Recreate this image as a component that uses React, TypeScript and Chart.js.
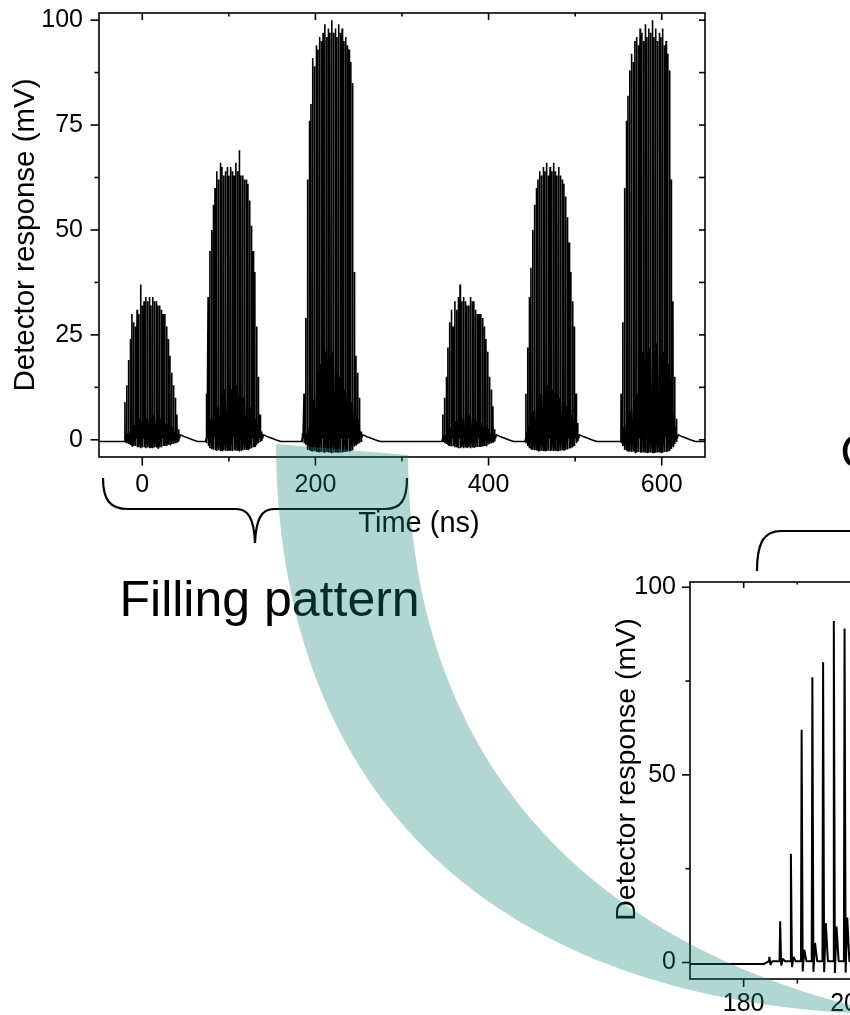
import React, { useEffect, useRef } from "react";
import { Chart, registerables } from "chart.js";

Chart.register(...registerables);

const FONT_FAMILY = "'Liberation Sans', Arial, Helvetica, sans-serif";

// ---------------- Data (time in ns, detector response in mV) ----------------
const BUNCH_SPACING_NS = 2;
// arrival time of the first bunch of each bunch train
const trainStartNs = [-20, 74, 184.8, 347, 443, 553];

// peak height of every bunch signal in each train
const train1Peaks = [9, 13, 19, 24, 30, 28, 27, 31, 30, 37, 32, 33, 34, 33, 34, 32, 34, 33, 33, 32, 32, 31, 30, 30, 27, 24, 20, 16, 13, 10, 6, 2.5];
const train2Peaks = [11, 34, 45, 50, 56, 60, 64, 62, 66, 65, 63, 64, 65, 63, 65, 64, 63, 66, 64, 69, 63, 63, 62, 62, 61, 57, 51, 45, 40, 27, 15, 6, 2];
const train3Peaks = [1.5, 11, 29, 62, 76, 80, 91, 89, 94, 93, 96, 95, 97, 99, 96, 98, 97, 100, 97, 98, 96, 99, 97, 98, 95, 96, 94, 93, 90, 85, 40, 20, 16, 10, 2];
const train4Peaks = [6, 10, 15, 22, 28, 31, 27, 33, 31, 34, 37, 33, 34, 33, 32, 32, 34, 33, 33, 31, 30, 30, 30, 29, 27, 24, 21, 15, 12, 8, 2.5];
const train5Peaks = [11, 22, 34, 41, 50, 56, 60, 62, 64, 63, 65, 64, 66, 63, 65, 64, 66, 64, 63, 65, 63, 62, 61, 58, 53, 47, 40, 33, 27, 11, 4];
const train6Peaks = [11, 28, 60, 76, 82, 88, 92, 90, 95, 96, 94, 98, 97, 95, 99, 96, 98, 97, 100, 96, 98, 95, 97, 96, 98, 94, 95, 92, 88, 62, 33, 15, 5];

// height of the ringing echo following every bunch signal
const train1Echo = [1, 1.5, 2, 2.5, 3, 3.5, 4, 4, 5, 4.5, 5, 6, 5, 5.5, 6, 5, 6, 5.5, 5, 6, 5, 4.5, 5, 4, 4, 3.5, 3, 3, 2.5, 2, 1.5, 1];
const train2Echo = [2, 4, 5, 6, 7, 8, 8, 9, 10, 11, 12, 11, 12, 13, 12, 11, 12, 13, 12, 11, 10, 10, 9, 9, 8, 8, 7, 6, 5, 4, 3, 2, 1];
const train3Echo = [0.3, 1, 1.5, 3.4, 5.2, 10.5, 9.6, 12, 14, 16, 18, 20, 22, 21, 23, 22, 20, 21, 19, 18, 16, 15, 14, 13, 12, 11, 11, 10, 9, 9, 8, 6, 5, 3, 1];
const train4Echo = [1, 1.5, 2, 2.5, 3, 3.5, 4, 4.5, 5, 5, 5.5, 5, 6, 5.5, 5, 6, 5.5, 5, 5, 4.5, 4.5, 4, 4, 3.5, 3, 3, 2.5, 2, 2, 1.5, 1];
const train5Echo = [2, 4, 5, 6, 7, 8, 9, 10, 11, 12, 11, 12, 13, 12, 11, 12, 13, 12, 11, 10, 10, 9, 9, 8, 7, 7, 6, 5, 4, 2, 1];
const train6Echo = [2, 3, 4, 5, 6, 7, 8, 9, 10, 11, 16, 19, 21, 22, 23, 21, 22, 20, 22, 21, 23, 21, 22, 20, 21, 19, 20, 18, 17, 12, 6, 3, 1];

// undershoot right after every bunch signal
const train1Dip = [-0.5, -0.8, -1, -1.2, -1.5, -1.5, -1.5, -1.8, -1.8, -2, -1.8, -1.8, -2, -1.8, -2, -1.8, -2, -1.8, -1.8, -2, -1.8, -1.8, -1.5, -1.5, -1.5, -1.2, -1.2, -1, -1, -0.8, -0.6, -0.4];
const train2Dip = [-0.8, -1.5, -2, -2.2, -2.4, -2.5, -2.6, -2.5, -2.7, -2.6, -2.5, -2.6, -2.7, -2.5, -2.6, -2.7, -2.5, -2.6, -2.6, -2.8, -2.5, -2.5, -2.4, -2.4, -2.3, -2.2, -2, -1.8, -1.6, -1.2, -0.8, -0.5, -0.3];
const train3Dip = [-0.6, -0.8, -1.2, -2.4, -2.5, -2.6, -2.8, -2.7, -2.9, -2.8, -3, -2.9, -3, -3.1, -2.9, -3, -2.9, -3.2, -3, -3, -2.9, -3.1, -3, -3, -2.9, -2.9, -2.8, -2.8, -2.7, -2.5, -1.6, -1.2, -1, -0.8, -0.5];
const train4Dip = [-0.5, -0.8, -1, -1.2, -1.5, -1.6, -1.5, -1.8, -1.8, -2, -2, -1.8, -2, -1.8, -1.8, -1.8, -2, -1.8, -1.8, -1.8, -1.7, -1.7, -1.7, -1.6, -1.5, -1.4, -1.2, -1, -0.8, -0.6, -0.4];
const train5Dip = [-0.8, -1.5, -2, -2.2, -2.4, -2.5, -2.5, -2.6, -2.7, -2.6, -2.7, -2.6, -2.7, -2.6, -2.7, -2.6, -2.7, -2.6, -2.6, -2.7, -2.6, -2.5, -2.5, -2.4, -2.3, -2.1, -2, -1.8, -1.5, -0.8, -0.4];
const train6Dip = [-0.8, -1.5, -2.4, -2.6, -2.7, -2.8, -2.9, -2.8, -3, -3, -2.9, -3.1, -3, -3, -3.1, -3, -3.1, -3, -3.2, -3, -3.1, -3, -3, -3, -3.1, -2.9, -2.9, -2.8, -2.7, -2.2, -1.6, -1, -0.5];

const trainPeaks = [train1Peaks, train2Peaks, train3Peaks, train4Peaks, train5Peaks, train6Peaks];
const trainEchoes = [train1Echo, train2Echo, train3Echo, train4Echo, train5Echo, train6Echo];
const trainDips = [train1Dip, train2Dip, train3Dip, train4Dip, train5Dip, train6Dip];

// slow tail after the last bunch of a train (ns after last bunch, mV)
const tailOffsetsNs = [2, 4, 7, 11, 16, 22];
const tailMv = [1.2, 1.0, 0.7, 0.4, 0.0, -0.4];

const BASELINE_MV = -0.4;
const SETTLE_MV = 0.3;
// detector pulse timing relative to bunch arrival (ns)
const RISE_NS = 0.12;
const DIP_NS = 0.2;
const ECHO_NS = 0.5;
const SETTLE_NS = 0.9;

// ---------------- Axes ----------------
const overviewX = { min: -50, max: 650 };
const overviewY = { min: -4.1, max: 101.7 };
const overviewXTicks = [0, 200, 400, 600];
const overviewXMinor = [100, 300, 500];
const overviewYTicks = [0, 25, 50, 75, 100];
const overviewYMinor = [12.5, 37.5, 62.5, 87.5];

const zoomX = { min: 170, max: 260 };
const zoomY = { min: -4.4, max: 101.4 };
const zoomXTicks = [180, 200, 220, 240, 260];
const zoomXMinor = [190, 210, 230, 250];
const zoomYTicks = [0, 50, 100];
const zoomYMinor = [25, 75];

const Y_TITLE = "Detector response (mV)";
const X_TITLE = "Time (ns)";

function buildTrace(xMin: number, xMax: number) {
  const pts: { x: number; y: number }[] = [{ x: xMin, y: BASELINE_MV }];
  trainStartNs.forEach((t0, k) => {
    pts.push({ x: t0 - 1, y: BASELINE_MV });
    const peaks = trainPeaks[k];
    peaks.forEach((p, i) => {
      const t = t0 + i * BUNCH_SPACING_NS;
      pts.push({ x: t - RISE_NS, y: SETTLE_MV });
      pts.push({ x: t, y: p });
      pts.push({ x: t + DIP_NS, y: trainDips[k][i] });
      pts.push({ x: t + ECHO_NS, y: trainEchoes[k][i] });
      pts.push({ x: t + SETTLE_NS, y: SETTLE_MV });
    });
    const tLast = t0 + (peaks.length - 1) * BUNCH_SPACING_NS;
    tailOffsetsNs.forEach((dt, j) => pts.push({ x: tLast + dt, y: tailMv[j] }));
  });
  pts.push({ x: xMax, y: BASELINE_MV });
  return pts;
}

const frameTicksPlugin = {
  id: "frameTicks",
  afterDraw(chart: any, _args: any, opts: any) {
    const { ctx, chartArea: a } = chart;
    const xs = chart.scales.x;
    const ys = chart.scales.y;
    const L = opts.len;
    ctx.save();
    ctx.strokeStyle = "#000";
    ctx.lineWidth = opts.lineWidth;
    ctx.strokeRect(a.left, a.top, a.right - a.left, a.bottom - a.top);
    const seg = (x1: number, y1: number, x2: number, y2: number) => {
      ctx.beginPath();
      ctx.moveTo(x1, y1);
      ctx.lineTo(x2, y2);
      ctx.stroke();
    };
    opts.xMajor.forEach((v: number) => {
      const p = xs.getPixelForValue(v);
      seg(p, a.bottom, p, a.bottom + L.outMajor);
      seg(p, a.top, p, a.top + L.inMajor);
    });
    opts.xMinor.forEach((v: number) => {
      const p = xs.getPixelForValue(v);
      seg(p, a.bottom, p, a.bottom + L.outMinor);
      seg(p, a.top, p, a.top + L.inMinor);
    });
    opts.yMajor.forEach((v: number) => {
      const p = ys.getPixelForValue(v);
      seg(a.left, p, a.left - L.outMajor, p);
      seg(a.right, p, a.right - L.right, p);
    });
    opts.yMinor.forEach((v: number) => {
      const p = ys.getPixelForValue(v);
      seg(a.left, p, a.left - L.outMinor, p);
      seg(a.right, p, a.right - L.right, p);
    });
    ctx.fillStyle = "#000";
    if (opts.xTitle) {
      ctx.font = `${opts.xTitle.size}px ${FONT_FAMILY}`;
      ctx.textAlign = "center";
      ctx.textBaseline = "alphabetic";
      ctx.fillText(opts.xTitle.text, (a.left + a.right) / 2 + opts.xTitle.dx, a.bottom + opts.xTitle.dy);
    }
    if (opts.yTitle) {
      ctx.font = `${opts.yTitle.size}px ${FONT_FAMILY}`;
      ctx.textAlign = "center";
      ctx.textBaseline = "alphabetic";
      ctx.translate(opts.yTitle.x, (a.top + a.bottom) / 2 + opts.yTitle.dy);
      ctx.rotate(-Math.PI / 2);
      ctx.fillText(opts.yTitle.text, 0, 0);
    }
    ctx.restore();
  },
};

function makeConfig(p: any) {
  const trace = buildTrace(overviewX.min, overviewX.max);
  return {
    type: "line",
    data: {
      datasets: [
        {
          data: trace,
          borderColor: "#000",
          borderWidth: p.lineWidth,
          pointRadius: 0,
          tension: 0,
          fill: false,
          borderJoinStyle: "bevel",
        },
      ],
    },
    options: {
      responsive: false,
      animation: false,
      devicePixelRatio: 1,
      parsing: false,
      normalized: true,
      events: [],
      layout: { padding: p.padding },
      plugins: {
        legend: { display: false },
        tooltip: { enabled: false },
        frameTicks: p.frame,
      },
      scales: {
        x: {
          type: "linear",
          min: p.x.min,
          max: p.x.max,
          afterBuildTicks: (s: any) => {
            s.ticks = p.xTicks.map((v: number) => ({ value: v }));
          },
          afterFit: (s: any) => {
            s.height = p.xHeight;
            s.paddingLeft = 0;
            s.paddingRight = 0;
            s.paddingTop = 0;
            s.paddingBottom = 0;
          },
          grid: { display: false, drawTicks: false },
          border: { display: false },
          ticks: {
            color: "#000",
            font: { family: FONT_FAMILY, size: p.tickSize },
            padding: p.xTickPad,
            maxRotation: 0,
            autoSkip: false,
          },
        },
        y: {
          type: "linear",
          min: p.y.min,
          max: p.y.max,
          afterBuildTicks: (s: any) => {
            s.ticks = p.yTicks.map((v: number) => ({ value: v }));
          },
          afterFit: (s: any) => {
            s.width = p.yWidth;
            s.paddingLeft = 0;
            s.paddingRight = 0;
            s.paddingTop = 0;
            s.paddingBottom = 0;
          },
          grid: { display: false, drawTicks: false },
          border: { display: false },
          ticks: {
            color: "#000",
            font: { family: FONT_FAMILY, size: p.tickSize },
            padding: p.yTickPad,
            autoSkip: false,
          },
          title: {
            display: p.yTitleSize > 0,
            text: Y_TITLE,
            color: "#000",
            font: { family: FONT_FAMILY, size: p.yTitleSize > 0 ? p.yTitleSize : 12 },
            padding: { top: p.yTitlePad, bottom: 0 },
          },
        },
      },
    },
    plugins: [frameTicksPlugin],
  };
}

// ---------------- Decorations ----------------
const bandPath =
  "M 276 444 C 278 820 520 995 850 1013 L 880 1016 L 880 1011 L 850 1005 C 620 945 410 790 408 455 Z";
const braceFilling =
  "M 103 478 C 103 500 110 509 128 509 L 236 509 C 248 509 254 518 255 543 C 256 518 262 509 274 509 L 385 509 C 401 509 407 500 407 478";
const braceZoom = "M 757 571 C 757 546 762 531 781 531 L 880 531";

export default function App() {
  const topRef = useRef<HTMLCanvasElement>(null);
  const zoomRef = useRef<HTMLCanvasElement>(null);

  useEffect(() => {
    const charts: Chart[] = [];
    if (topRef.current) {
      charts.push(
        new Chart(
          topRef.current,
          makeConfig({
            lineWidth: 1.6,
            padding: { left: 0, top: 13, right: 145, bottom: 0 },
            x: overviewX,
            y: overviewY,
            xTicks: overviewXTicks,
            yTicks: overviewYTicks,
            xHeight: 103,
            yWidth: 99,
            tickSize: 25,
            xTickPad: 13,
            yTickPad: 16,
            yTitleSize: 29.5,
            yTitlePad: 8,
            frame: {
              lineWidth: 1.6,
              len: { outMajor: 8.5, outMinor: 4.5, inMajor: 7, inMinor: 3.5, right: 6 },
              xMajor: overviewXTicks,
              xMinor: overviewXMinor,
              yMajor: overviewYTicks,
              yMinor: overviewYMinor,
              xTitle: { text: X_TITLE, size: 29, dx: 17, dy: 75 },
              yTitle: null,
            },
          }) as any
        )
      );
    }
    if (zoomRef.current) {
      charts.push(
        new Chart(
          zoomRef.current,
          makeConfig({
            lineWidth: 2,
            padding: { left: 0, top: 22, right: 87, bottom: 0 },
            x: zoomX,
            y: zoomY,
            xTicks: zoomXTicks,
            yTicks: zoomYTicks,
            xHeight: 36,
            yWidth: 130,
            tickSize: 25,
            xTickPad: 10,
            yTickPad: 14,
            yTitleSize: 0,
            yTitlePad: 0,
            frame: {
              lineWidth: 1.6,
              len: { outMajor: 8, outMinor: 4.5, inMajor: 6, inMinor: 2.5, right: 6 },
              xMajor: zoomXTicks,
              xMinor: zoomXMinor,
              yMajor: zoomYTicks,
              yMinor: zoomYMinor,
              xTitle: null,
              yTitle: { text: Y_TITLE, size: 28.5, x: 75, dy: -11 },
            },
          }) as any
        )
      );
    }
    return () => charts.forEach((c) => c.destroy());
  }, []);

  return (
    <div
      style={{
        position: "fixed",
        left: 0,
        top: 0,
        width: 850,
        height: 1015,
        overflow: "hidden",
        background: "#fff",
      }}
    >
      <canvas ref={topRef} width={850} height={560} style={{ position: "absolute", left: 0, top: 0 }} />
      <canvas ref={zoomRef} width={700} height={455} style={{ position: "absolute", left: 560, top: 560 }} />
      <svg
        width={850}
        height={1015}
        style={{ position: "absolute", left: 0, top: 0, pointerEvents: "none" }}
      >
        <path d={braceFilling} fill="none" stroke="#000" strokeWidth={2.2} />
        <path d={braceZoom} fill="none" stroke="#000" strokeWidth={2.2} />
        <text x={119.5} y={616} fontFamily={FONT_FAMILY} fontSize={50} fill="#000">
          Filling pattern
        </text>
        <text x={840.3} y={467.7} fontFamily={FONT_FAMILY} fontSize={49} fill="#000">
          C
        </text>
        <path d={bandPath} fill="rgba(22,130,115,0.33)" />
      </svg>
    </div>
  );
}
